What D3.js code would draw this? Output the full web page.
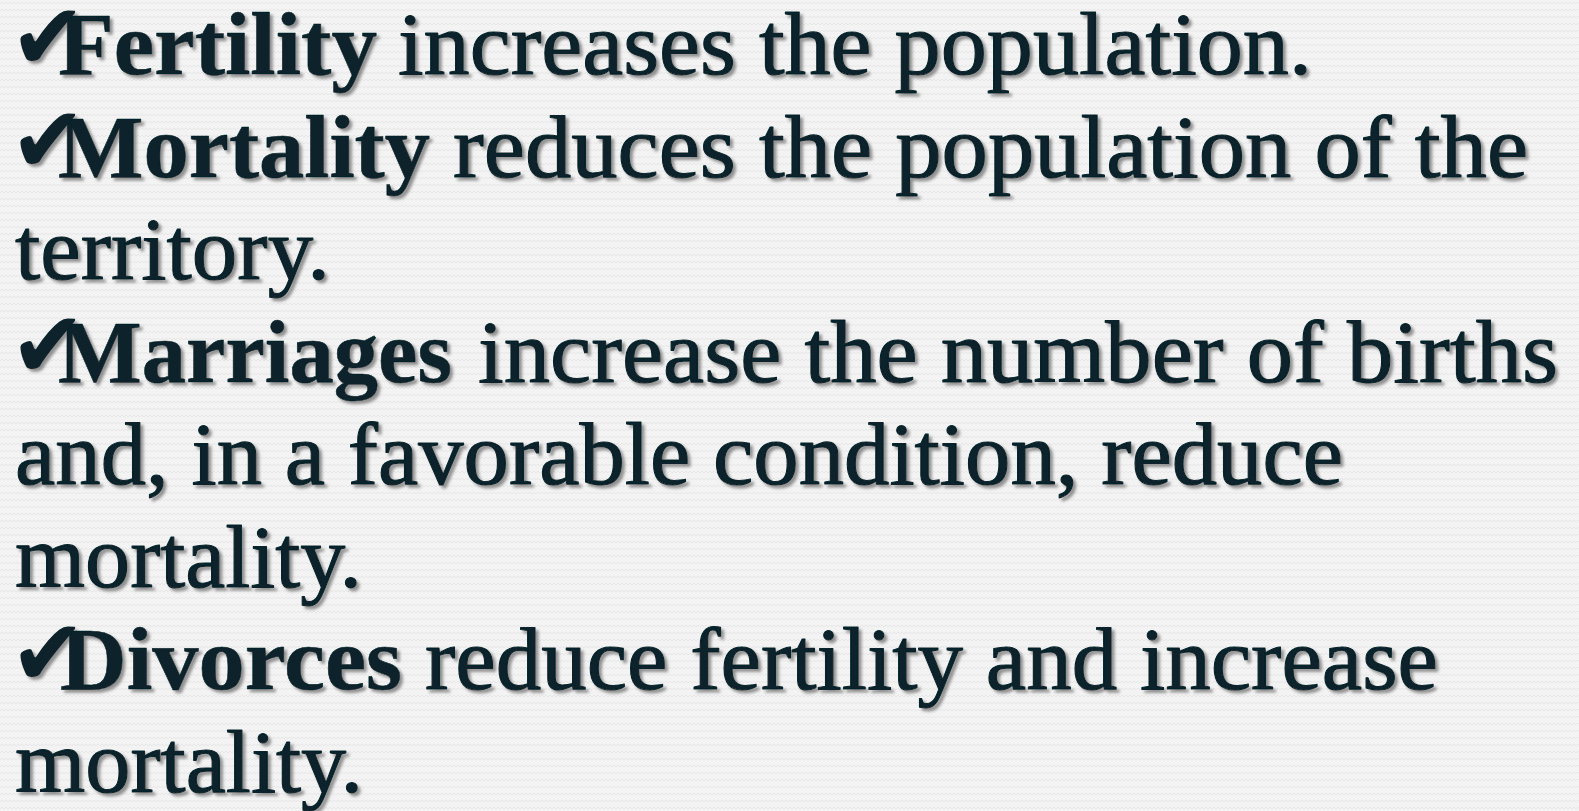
<!DOCTYPE html>
<html>
<head>
<meta charset="utf-8">
<script src="https://cdn.jsdelivr.net/npm/d3@7"></script>
<style>
  html, body { margin: 0; padding: 0; background: #f1f1f1; overflow: hidden; }
  svg { display: block; }
</style>
</head>
<body>
<script>
// ---- content ----
const boldTerms = ["Fertility", "Mortality", "Marriages", "Divorces"];
const lineTexts = [
  "increases the population.",
  "reduces the population of the",
  "territory.",
  "increase the number of births",
  "and, in a favorable condition, reduce",
  "mortality.",
  "reduce fertility and increase",
  "mortality."
];
// line on which each bold term (and its check mark) sits
const bulletLines = [0, 1, 3, 6];
const bulletGlyph = "\u2714";

// ---- layout (measured extents in px) ----
const boldExtent = [[58, 377], [58, 430], [58, 452], [60, 402]];
const textExtent = [[398, 1312], [453, 1528], [15, 330], [478, 1558], [15, 1343], [15, 362], [425, 1438], [15, 363]];
const checkBox = { x0: 20, x1: 76, top: -64, bottom: -12 }; // relative to baseline

const W = 1579, H = 811;
const ink = "#07232a";

const svg = d3.select("body").append("svg").attr("width", W).attr("height", H);
const defs = svg.append("defs");

// zigzag background texture
const pat = defs.append("pattern").attr("id", "zig").attr("patternUnits", "userSpaceOnUse")
  .attr("width", 8).attr("height", 7);
pat.append("rect").attr("width", 8).attr("height", 7).attr("fill", "#f3f3f3");
pat.append("path").attr("d", "M0,4 L2,2 L4,4 L6,2 L8,4").attr("fill", "none")
  .attr("stroke", "#e7e7e7").attr("stroke-width", 1);

const shadow = defs.append("filter").attr("id", "shadow")
  .attr("x", "-5%").attr("y", "-20%").attr("width", "110%").attr("height", "140%");
shadow.append("feDropShadow").attr("dx", 3).attr("dy", 3).attr("stdDeviation", 1.6)
  .attr("flood-color", "#6f6f6f").attr("flood-opacity", 0.75);

svg.append("rect").attr("width", W).attr("height", H).attr("fill", "url(#zig)");

const y = d3.scaleLinear().domain([0, lineTexts.length - 1]).range([74, 792]);

const g = svg.append("g").attr("filter", "url(#shadow)").attr("fill", ink)
  .attr("stroke", ink).attr("stroke-linejoin", "round");

function seg(text, ext, lineIdx, bold) {
  g.append("text")
    .attr("x", ext[0])
    .attr("y", y(lineIdx))
    .attr("font-family", "'Liberation Serif', 'DejaVu Serif', serif")
    .attr("font-weight", bold ? 700 : 400)
    .attr("font-size", 89)
    .attr("stroke-width", bold ? 0.6 : 1.1)
    .attr("textLength", ext[1] - ext[0])
    .attr("lengthAdjust", "spacingAndGlyphs")
    .text(text);
}

lineTexts.forEach((t, i) => seg(t, textExtent[i], i, false));
boldTerms.forEach((t, k) => seg(t, boldExtent[k], bulletLines[k], true));

// check marks: fit glyph ink box into the measured box
const ctx = document.createElement("canvas").getContext("2d");
const fs = 100;
ctx.font = `${fs}px 'DejaVu Sans'`;
const m = ctx.measureText(bulletGlyph);
const inkL = -m.actualBoundingBoxLeft, inkR = m.actualBoundingBoxRight;
const inkT = -m.actualBoundingBoxAscent, inkB = m.actualBoundingBoxDescent;
const sx = (checkBox.x1 - checkBox.x0) / (inkR - inkL);
const sy = (checkBox.bottom - checkBox.top) / (inkB - inkT);

bulletLines.forEach(li => {
  const tx = checkBox.x0 - inkL * sx;
  const ty = y(li) + checkBox.top - inkT * sy;
  g.append("text")
    .attr("transform", `translate(${tx},${ty}) scale(${sx},${sy})`)
    .attr("font-family", "'DejaVu Sans', sans-serif")
    .attr("font-size", fs)
    .attr("stroke-width", 0)
    .text(bulletGlyph);
});
</script>
</body>
</html>
